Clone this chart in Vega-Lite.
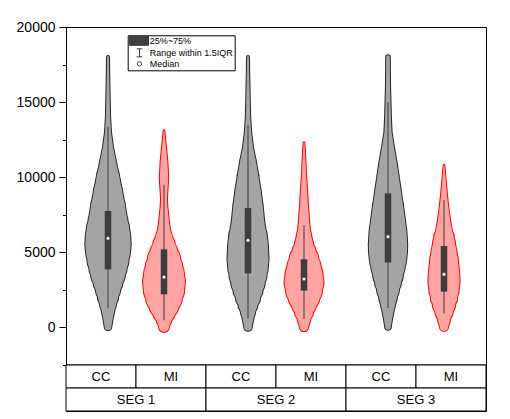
{
  "$schema": "https://vega.github.io/schema/vega-lite/v6.json",
  "padding": {"left": 15, "top": 19, "right": 5, "bottom": 5},
  "background": "white",
  "config": {
    "font": "Liberation Sans",
    "view": {"stroke": "black", "strokeWidth": 1}
  },
  "datasets": {
    "violins": [
      {"seg":"SEG 1","grp":"CC","value":18000,"density":1.0},{"seg":"SEG 1","grp":"CC","value":17000,"density":1.2},{"seg":"SEG 1","grp":"CC","value":16000,"density":1.5},{"seg":"SEG 1","grp":"CC","value":15000,"density":1.8},{"seg":"SEG 1","grp":"CC","value":14000,"density":2.1},{"seg":"SEG 1","grp":"CC","value":13000,"density":3.0},{"seg":"SEG 1","grp":"CC","value":12000,"density":5.0},{"seg":"SEG 1","grp":"CC","value":11000,"density":8.0},{"seg":"SEG 1","grp":"CC","value":10000,"density":11.3},{"seg":"SEG 1","grp":"CC","value":9000,"density":14.3},{"seg":"SEG 1","grp":"CC","value":8000,"density":17.1},{"seg":"SEG 1","grp":"CC","value":7000,"density":19.6},{"seg":"SEG 1","grp":"CC","value":6500,"density":21.3},{"seg":"SEG 1","grp":"CC","value":6000,"density":22.3},{"seg":"SEG 1","grp":"CC","value":5500,"density":22.7},{"seg":"SEG 1","grp":"CC","value":5000,"density":22.0},{"seg":"SEG 1","grp":"CC","value":4500,"density":20.6},{"seg":"SEG 1","grp":"CC","value":4000,"density":18.8},{"seg":"SEG 1","grp":"CC","value":3500,"density":16.9},{"seg":"SEG 1","grp":"CC","value":3000,"density":14.4},{"seg":"SEG 1","grp":"CC","value":2500,"density":12.2},{"seg":"SEG 1","grp":"CC","value":2000,"density":10.1},{"seg":"SEG 1","grp":"CC","value":1500,"density":8.0},{"seg":"SEG 1","grp":"CC","value":1000,"density":6.0},{"seg":"SEG 1","grp":"CC","value":500,"density":4.5},{"seg":"SEG 1","grp":"CC","value":0,"density":3.3},
      {"seg":"SEG 1","grp":"MI","value":13100,"density":0.3},{"seg":"SEG 1","grp":"MI","value":12500,"density":1.2},{"seg":"SEG 1","grp":"MI","value":12000,"density":2.0},{"seg":"SEG 1","grp":"MI","value":11000,"density":3.4},{"seg":"SEG 1","grp":"MI","value":10000,"density":4.2},{"seg":"SEG 1","grp":"MI","value":9500,"density":3.9},{"seg":"SEG 1","grp":"MI","value":9000,"density":3.3},{"seg":"SEG 1","grp":"MI","value":8500,"density":3.0},{"seg":"SEG 1","grp":"MI","value":8000,"density":3.4},{"seg":"SEG 1","grp":"MI","value":7500,"density":4.2},{"seg":"SEG 1","grp":"MI","value":7000,"density":5.0},{"seg":"SEG 1","grp":"MI","value":6500,"density":6.0},{"seg":"SEG 1","grp":"MI","value":6000,"density":8.2},{"seg":"SEG 1","grp":"MI","value":5500,"density":10.8},{"seg":"SEG 1","grp":"MI","value":5000,"density":13.3},{"seg":"SEG 1","grp":"MI","value":4500,"density":16.2},{"seg":"SEG 1","grp":"MI","value":4000,"density":18.2},{"seg":"SEG 1","grp":"MI","value":3500,"density":20.0},{"seg":"SEG 1","grp":"MI","value":3000,"density":21.0},{"seg":"SEG 1","grp":"MI","value":2500,"density":20.2},{"seg":"SEG 1","grp":"MI","value":2000,"density":18.0},{"seg":"SEG 1","grp":"MI","value":1500,"density":14.8},{"seg":"SEG 1","grp":"MI","value":1000,"density":11.0},{"seg":"SEG 1","grp":"MI","value":500,"density":7.5},{"seg":"SEG 1","grp":"MI","value":0,"density":5.0},
      {"seg":"SEG 2","grp":"CC","value":18000,"density":1.0},{"seg":"SEG 2","grp":"CC","value":17000,"density":1.2},{"seg":"SEG 2","grp":"CC","value":16000,"density":1.5},{"seg":"SEG 2","grp":"CC","value":15000,"density":1.8},{"seg":"SEG 2","grp":"CC","value":14000,"density":2.2},{"seg":"SEG 2","grp":"CC","value":13000,"density":3.2},{"seg":"SEG 2","grp":"CC","value":12000,"density":5.0},{"seg":"SEG 2","grp":"CC","value":11000,"density":8.0},{"seg":"SEG 2","grp":"CC","value":10000,"density":10.5},{"seg":"SEG 2","grp":"CC","value":9000,"density":12.9},{"seg":"SEG 2","grp":"CC","value":8000,"density":14.8},{"seg":"SEG 2","grp":"CC","value":7000,"density":16.3},{"seg":"SEG 2","grp":"CC","value":6500,"density":17.5},{"seg":"SEG 2","grp":"CC","value":6000,"density":19.0},{"seg":"SEG 2","grp":"CC","value":5500,"density":19.8},{"seg":"SEG 2","grp":"CC","value":5000,"density":20.2},{"seg":"SEG 2","grp":"CC","value":4500,"density":20.5},{"seg":"SEG 2","grp":"CC","value":4000,"density":19.9},{"seg":"SEG 2","grp":"CC","value":3500,"density":18.6},{"seg":"SEG 2","grp":"CC","value":3000,"density":16.8},{"seg":"SEG 2","grp":"CC","value":2500,"density":14.6},{"seg":"SEG 2","grp":"CC","value":2000,"density":12.2},{"seg":"SEG 2","grp":"CC","value":1500,"density":9.6},{"seg":"SEG 2","grp":"CC","value":1000,"density":7.2},{"seg":"SEG 2","grp":"CC","value":500,"density":5.2},{"seg":"SEG 2","grp":"CC","value":0,"density":3.8},
      {"seg":"SEG 2","grp":"MI","value":12300,"density":0.3},{"seg":"SEG 2","grp":"MI","value":12000,"density":0.8},{"seg":"SEG 2","grp":"MI","value":11000,"density":1.5},{"seg":"SEG 2","grp":"MI","value":10000,"density":2.2},{"seg":"SEG 2","grp":"MI","value":9000,"density":3.2},{"seg":"SEG 2","grp":"MI","value":8000,"density":4.1},{"seg":"SEG 2","grp":"MI","value":7000,"density":5.2},{"seg":"SEG 2","grp":"MI","value":6500,"density":6.0},{"seg":"SEG 2","grp":"MI","value":6000,"density":7.5},{"seg":"SEG 2","grp":"MI","value":5500,"density":9.2},{"seg":"SEG 2","grp":"MI","value":5000,"density":11.6},{"seg":"SEG 2","grp":"MI","value":4500,"density":14.4},{"seg":"SEG 2","grp":"MI","value":4000,"density":16.6},{"seg":"SEG 2","grp":"MI","value":3500,"density":18.5},{"seg":"SEG 2","grp":"MI","value":3000,"density":19.5},{"seg":"SEG 2","grp":"MI","value":2500,"density":18.2},{"seg":"SEG 2","grp":"MI","value":2000,"density":15.4},{"seg":"SEG 2","grp":"MI","value":1500,"density":12.0},{"seg":"SEG 2","grp":"MI","value":1000,"density":9.2},{"seg":"SEG 2","grp":"MI","value":500,"density":6.3},{"seg":"SEG 2","grp":"MI","value":0,"density":4.2},
      {"seg":"SEG 3","grp":"CC","value":18000,"density":1.8},{"seg":"SEG 3","grp":"CC","value":17000,"density":1.9},{"seg":"SEG 3","grp":"CC","value":16000,"density":2.1},{"seg":"SEG 3","grp":"CC","value":15000,"density":2.5},{"seg":"SEG 3","grp":"CC","value":14000,"density":2.9},{"seg":"SEG 3","grp":"CC","value":13000,"density":3.6},{"seg":"SEG 3","grp":"CC","value":12000,"density":6.0},{"seg":"SEG 3","grp":"CC","value":11000,"density":8.6},{"seg":"SEG 3","grp":"CC","value":10000,"density":10.8},{"seg":"SEG 3","grp":"CC","value":9000,"density":13.0},{"seg":"SEG 3","grp":"CC","value":8000,"density":15.2},{"seg":"SEG 3","grp":"CC","value":7000,"density":17.2},{"seg":"SEG 3","grp":"CC","value":6500,"density":18.2},{"seg":"SEG 3","grp":"CC","value":6000,"density":18.8},{"seg":"SEG 3","grp":"CC","value":5500,"density":19.2},{"seg":"SEG 3","grp":"CC","value":5000,"density":19.0},{"seg":"SEG 3","grp":"CC","value":4500,"density":18.2},{"seg":"SEG 3","grp":"CC","value":4000,"density":16.7},{"seg":"SEG 3","grp":"CC","value":3500,"density":15.0},{"seg":"SEG 3","grp":"CC","value":3000,"density":13.0},{"seg":"SEG 3","grp":"CC","value":2500,"density":11.0},{"seg":"SEG 3","grp":"CC","value":2000,"density":9.1},{"seg":"SEG 3","grp":"CC","value":1500,"density":7.2},{"seg":"SEG 3","grp":"CC","value":1000,"density":5.5},{"seg":"SEG 3","grp":"CC","value":500,"density":4.0},{"seg":"SEG 3","grp":"CC","value":0,"density":2.8},
      {"seg":"SEG 3","grp":"MI","value":10800,"density":0.3},{"seg":"SEG 3","grp":"MI","value":10000,"density":1.4},{"seg":"SEG 3","grp":"MI","value":9000,"density":2.7},{"seg":"SEG 3","grp":"MI","value":8000,"density":4.3},{"seg":"SEG 3","grp":"MI","value":7000,"density":6.4},{"seg":"SEG 3","grp":"MI","value":6500,"density":7.8},{"seg":"SEG 3","grp":"MI","value":6000,"density":9.8},{"seg":"SEG 3","grp":"MI","value":5500,"density":11.2},{"seg":"SEG 3","grp":"MI","value":5000,"density":12.6},{"seg":"SEG 3","grp":"MI","value":4500,"density":13.8},{"seg":"SEG 3","grp":"MI","value":4000,"density":14.6},{"seg":"SEG 3","grp":"MI","value":3500,"density":15.3},{"seg":"SEG 3","grp":"MI","value":3000,"density":15.6},{"seg":"SEG 3","grp":"MI","value":2500,"density":14.7},{"seg":"SEG 3","grp":"MI","value":2000,"density":13.2},{"seg":"SEG 3","grp":"MI","value":1500,"density":11.2},{"seg":"SEG 3","grp":"MI","value":1000,"density":8.8},{"seg":"SEG 3","grp":"MI","value":500,"density":6.2},{"seg":"SEG 3","grp":"MI","value":0,"density":4.0}
    ],
    "stats": [
      {"seg":"SEG 1","grp":"CC","lo":1244,"q1":3844,"median":5911,"q3":7733,"hi":13356},
      {"seg":"SEG 1","grp":"MI","lo":450,"q1":2178,"median":3333,"q3":5178,"hi":9480},
      {"seg":"SEG 2","grp":"CC","lo":560,"q1":3578,"median":5778,"q3":7930,"hi":13467},
      {"seg":"SEG 2","grp":"MI","lo":533,"q1":2422,"median":3200,"q3":4511,"hi":6800},
      {"seg":"SEG 3","grp":"CC","lo":1270,"q1":4300,"median":6022,"q3":8911,"hi":15000},
      {"seg":"SEG 3","grp":"MI","lo":911,"q1":2356,"median":3511,"q3":5400,"hi":8467}
    ],
    "cells": [
      {"seg":"SEG 1","grp":"CC"},{"seg":"SEG 1","grp":"MI"},
      {"seg":"SEG 2","grp":"CC"},{"seg":"SEG 2","grp":"MI"},
      {"seg":"SEG 3","grp":"CC"},{"seg":"SEG 3","grp":"MI"}
    ],
    "segs": [{"seg":"SEG 1"},{"seg":"SEG 2"},{"seg":"SEG 3"}]
  },
  "spacing": 0,
  "bounds": "flush",
  "resolve": {
    "scale": {"x": "independent", "xOffset": "independent", "color": "independent"},
    "legend": {"color": "independent"}
  },
  "vconcat": [
    {
      "width": 420,
      "height": 337.5,
      "resolve": {"scale": {"fill": "independent", "size": "independent"}, "axis": {"y": "independent"}},
      "encoding": {
        "x": {"field": "seg", "type": "nominal", "scale": {"domain": ["SEG 1", "SEG 2", "SEG 3"], "paddingInner": 0, "paddingOuter": 0}, "axis": null},
        "xOffset": {"field": "grp", "type": "nominal", "scale": {"domain": ["CC", "MI"], "paddingInner": 0, "paddingOuter": 0.25}}
      },
      "layer": [
        {
          "data": {"name": "violins"},
          "mark": {"type": "trail", "opacity": 1},
          "encoding": {
            "y": {
              "field": "value", "type": "quantitative",
              "scale": {"domain": [-2500, 20000], "nice": false, "zero": false},
              "axis": {
                "orient": "left",
                "title": null,
                "values": [0, 5000, 10000, 15000, 20000],
                "format": "d",
                "tickSize": 7,
                "grid": false,
                "domainColor": "black",
                "tickColor": "black",
                "labelColor": "black",
                "labelFontSize": 14,
                "labelFont": "Liberation Sans",
                "labelPadding": 4,
                "labelFlush": false,
                "labelOverlap": false
              }
            },
            "size": {"field": "density", "type": "quantitative", "scale": {"domain": [0, 25], "range": [2, 52]}, "legend": null},
            "fill": {"field": "grp", "type": "nominal", "scale": {"domain": ["CC", "MI"], "range": ["#262626", "#ff0000"]}, "legend": null},
            "order": {"field": "value", "type": "quantitative"},
            "detail": [{"field": "seg"}, {"field": "grp"}]
          }
        },
        {
          "data": {"name": "violins"},
          "mark": {"type": "trail", "opacity": 1},
          "encoding": {
            "y": {
              "field": "value", "type": "quantitative",
              "axis": {
                "orient": "left",
                "title": null,
                "values": [-2500, 2500, 7500, 12500, 17500],
                "labels": false,
                "domain": false,
                "grid": false,
                "tickSize": 3.5,
                "tickColor": "black"
              }
            },
            "size": {"field": "density", "type": "quantitative", "scale": {"domain": [0, 25], "range": [0, 50]}, "legend": null},
            "fill": {"field": "grp", "type": "nominal", "scale": {"domain": ["CC", "MI"], "range": ["#a4a4a4", "#ffa3a3"]}, "legend": null},
            "order": {"field": "value", "type": "quantitative"},
            "detail": [{"field": "seg"}, {"field": "grp"}]
          }
        },
        {
          "data": {"name": "stats"},
          "mark": {"type": "rule", "strokeWidth": 1},
          "encoding": {
            "y": {"field": "lo", "type": "quantitative", "axis": null},
            "y2": {"field": "hi"},
            "color": {
              "datum": "Range within 1.5IQR", "type": "nominal",
              "scale": {"domain": ["25%~75%", "Range within 1.5IQR", "Median"], "range": ["#3d3d3d", "#3d3d3d", "#3d3d3d"]},
              "legend": {
                "title": null,
                "orient": "none",
                "legendX": 61.7,
                "legendY": 8.3,
                "strokeColor": "black",
                "fillColor": "white",
                "padding": 1,
                "symbolSize": 36,
                "rowPadding": -1,
                "labelOffset": 12,
                "labelFont": "Liberation Sans",
                "labelFontSize": 9,
                "labelColor": "black",
                "symbolType": "square",
                "encode": {
                  "symbols": {
                    "update": {
                      "shape": {"signal": "datum.value === '25%~75%' ? 'M-1.23,-1.5H5.1V1.5H-1.23Z' : datum.value === 'Median' ? 'M2.85,0L2.63,0.53L2.1,0.75L1.57,0.53L1.35,0L1.57,-0.53L2.1,-0.75L2.63,-0.53Z' : 'M2.1,-1.33V1.33M1.17,-1.33H3.03M1.17,1.33H3.03'"},
                      "fill": {"signal": "datum.value === '25%~75%' ? '#404040' : datum.value === 'Median' ? '#ffffff' : 'transparent'"},
                      "stroke": {"signal": "datum.value === '25%~75%' ? 'transparent' : '#404040'"},
                      "strokeWidth": {"value": 1},
                      "opacity": {"value": 1}
                    }
                  }
                }
              }
            }
          }
        },
        {
          "data": {"name": "stats"},
          "mark": {"type": "rule", "strokeWidth": 6.5, "strokeCap": "butt"},
          "encoding": {
            "y": {"field": "q1", "type": "quantitative", "axis": null},
            "y2": {"field": "q3"},
            "color": {"datum": "25%~75%", "type": "nominal"}
          }
        },
        {
          "data": {"name": "stats"},
          "mark": {"type": "point", "filled": false, "fill": "white", "fillOpacity": 1, "strokeWidth": 0.6, "size": 14, "opacity": 1},
          "encoding": {
            "y": {"field": "median", "type": "quantitative", "axis": null},
            "color": {"datum": "Median", "type": "nominal"}
          }
        }
      ]
    },
    {
      "width": 420,
      "height": 23,
      "data": {"name": "cells"},
      "encoding": {
        "x": {"field": "seg", "type": "nominal", "scale": {"domain": ["SEG 1", "SEG 2", "SEG 3"], "paddingInner": 0, "paddingOuter": 0}, "axis": null},
        "xOffset": {"field": "grp", "type": "nominal", "scale": {"domain": ["CC", "MI"], "paddingInner": 0, "paddingOuter": 0}}
      },
      "layer": [
        {"mark": {"type": "rect", "fill": "white", "stroke": "black", "strokeWidth": 1}},
        {"mark": {"type": "text", "fontSize": 13, "font": "Liberation Sans", "color": "black"}, "encoding": {"text": {"field": "grp"}}}
      ]
    },
    {
      "width": 420,
      "height": 23,
      "data": {"name": "segs"},
      "encoding": {
        "x": {"field": "seg", "type": "nominal", "scale": {"domain": ["SEG 1", "SEG 2", "SEG 3"], "paddingInner": 0, "paddingOuter": 0}, "axis": null}
      },
      "layer": [
        {"mark": {"type": "rect", "fill": "white", "stroke": "black", "strokeWidth": 1}},
        {"mark": {"type": "text", "fontSize": 13, "font": "Liberation Sans", "color": "black"}, "encoding": {"text": {"field": "seg"}}}
      ]
    }
  ]
}
